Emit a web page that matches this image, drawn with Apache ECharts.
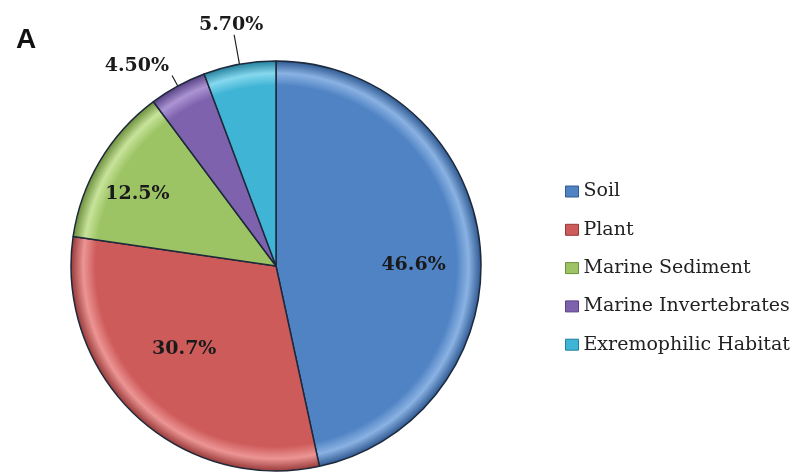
<!DOCTYPE html>
<html>
<head>
<meta charset="utf-8">
<script src="https://cdn.jsdelivr.net/npm/echarts@6/dist/echarts.min.js"></script>
<style>html,body{margin:0;padding:0;background:#fff}#c{width:797px;height:472px}</style>
</head>
<body>
<div id="c"></div>
<script>
const categories = ['Soil', 'Plant', 'Marine Sediment', 'Marine Invertebrates', 'Exremophilic Habitat'];
const values = [46.6, 30.7, 12.5, 4.5, 5.7];
const labelTexts = ['46.6%', '30.7%', '12.5%', '4.50%', '5.70%'];
const colors = ['#5083c4', '#cd5b5a', '#9cc464', '#7e62ae', '#3fb4d5'];
const rims = ['#8ab2e3', '#ec9594', '#c8e39a', '#ac94d4', '#86d8ee'];
const darks = ['#2f5a92', '#983a39', '#6c8f3c', '#574284', '#24819d'];
const outsideIdx = [3, 4];
// small nudges of the inside labels (label styling only)
const labelNudge = [[-2, 14], [4, -20], [-18, 0]];

const CX = 276, CY = 266, R = 205;

function fill(i) {
  return {
    type: 'radial', x: CX, y: CY, r: R, global: true,
    colorStops: [
      { offset: 0, color: colors[i] },
      { offset: 0.88, color: colors[i] },
      { offset: 0.94, color: rims[i] },
      { offset: 1, color: darks[i] }
    ]
  };
}

const mainData = categories.map((n, i) => ({
  name: n,
  value: values[i],
  itemStyle: { color: fill(i) },
  label: { show: outsideIdx.includes(i), formatter: labelTexts[i] },
  labelLine: { show: outsideIdx.includes(i), length: i === 4 ? 30 : 12, length2: 0 }
}));

const ghostData = categories.map((n, i) => ({
  name: n,
  value: values[i],
  label: { show: !outsideIdx.includes(i), formatter: labelTexts[i] }
}));

const chart = echarts.init(document.getElementById('c'));
chart.setOption({
  animation: false,
  backgroundColor: '#ffffff',
  title: {
    text: 'A', left: 11, top: 21,
    textStyle: { fontFamily: 'Liberation Sans', fontWeight: 'bold', fontSize: 28, color: '#111' }
  },
  legend: {
    orient: 'vertical', left: 560, top: 177,
    itemWidth: 13, itemHeight: 11, itemGap: 19.3,
    icon: 'rect',
    textStyle: { fontFamily: 'DejaVu Serif', fontSize: 19, color: '#222' },
    data: categories.map((n, i) => ({ name: n, itemStyle: { color: colors[i], borderColor: darks[i], borderWidth: 1 } }))
  },
  series: [
    {
      type: 'pie',
      center: [CX, CY],
      radius: R,
      startAngle: 90,
      clockwise: true,
      avoidLabelOverlap: false,
      itemStyle: { borderColor: '#1e2a3c', borderWidth: 1.5 },
      label: {
        position: 'outside',
        fontFamily: 'DejaVu Serif', fontWeight: 'bold', fontSize: 19, color: '#1a1a1a',
        distanceToLabelLine: 3
      },
      labelLine: { lineStyle: { color: '#222', width: 1.2 } },
      labelLayout: function (p) {
        if (p.dataIndex === 4) return { align: 'center', verticalAlign: 'bottom' };
        if (p.dataIndex === 3) return { align: 'right', verticalAlign: 'bottom' };
        return {};
      },
      emphasis: { disabled: true },
      data: mainData
    },
    {
      type: 'pie',
      center: [CX, CY],
      radius: [0, R * 1.34],
      startAngle: 90,
      clockwise: true,
      silent: true,
      avoidLabelOverlap: false,
      itemStyle: { color: 'rgba(0,0,0,0)', borderWidth: 0 },
      label: {
        position: 'inside',
        fontFamily: 'DejaVu Serif', fontWeight: 'bold', fontSize: 19, color: '#1a1a1a'
      },
      labelLine: { show: false },
      labelLayout: function (p) {
        const d = labelNudge[p.dataIndex];
        return d ? { dx: d[0], dy: d[1] } : {};
      },
      emphasis: { disabled: true },
      data: ghostData
    }
  ]
});
</script>
</body>
</html>
